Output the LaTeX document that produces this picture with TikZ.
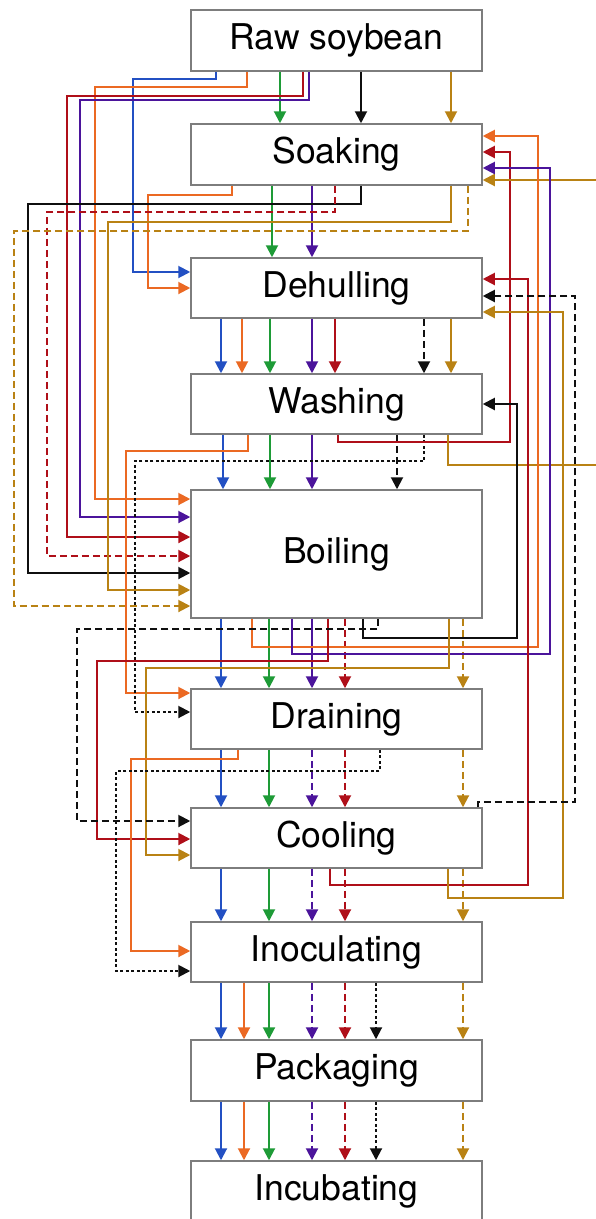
\documentclass[tikz,border=0pt]{standalone}
\usepackage{fontspec}
\setmainfont{TeX Gyre Heros}
\usetikzlibrary{arrows.meta}
\definecolor{cb}{RGB}{35,80,195}
\definecolor{co}{RGB}{235,105,35}
\definecolor{cg}{RGB}{30,155,55}
\definecolor{cp}{RGB}{75,20,155}
\definecolor{cr}{RGB}{175,15,25}
\definecolor{cy}{RGB}{185,130,20}
\definecolor{ck}{RGB}{15,15,15}
\definecolor{boxgray}{RGB}{125,125,125}
\begin{document}
\begin{tikzpicture}[x=1pt,y=-1pt,
  box/.style={draw=boxgray, line width=1.5pt, fill=white, minimum width=291pt, inner sep=0pt, font=\fontsize{35.5}{40}\selectfont},
  fl/.style={line width=2pt, -{Triangle[width=12pt,length=12pt]}},
  dsh/.style={dash pattern=on 7pt off 4pt},
  dtt/.style={dash pattern=on 3pt off 2.5pt},
  B/.style={fl,draw=cb},
  O/.style={fl,draw=co},
  G/.style={fl,draw=cg},
  P/.style={fl,draw=cp},
  R/.style={fl,draw=cr},
  Y/.style={fl,draw=cy},
  K/.style={fl,draw=ck}]
\clip (0,0) rectangle (596,1219);
\fill[white] (0,0) rectangle (596,1219);
% boxes
\node[box, minimum height=61pt] (raw)   at (336.5,40.5)  {Raw soybean};
\node[box, minimum height=61pt] (soak)  at (336.5,154.5) {Soaking};
\node[box, minimum height=60pt] (dehull) at (336.5,288)  {Dehulling};
\node[box, minimum height=60pt] (wash)  at (336.5,404)   {Washing};
\node[box, minimum height=128pt] (boil) at (336.5,554)   {Boiling};
\node[box, minimum height=60pt] (drain) at (336.5,719)   {Draining};
\node[box, minimum height=60pt] (cool)  at (336.5,838)   {Cooling};
\node[box, minimum height=60pt] (inoc)  at (336.5,952)   {Inoculating};
\node[box, minimum height=61pt] (pack)  at (336.5,1070.5) {Packaging};
\node[box, minimum height=60pt] (incub) at (336.5,1191)  {Incubating};

% Raw soybean -> Soaking
\draw[G] (raw.south -| 280,0) -- (soak.north -| 280,0);
\draw[K] (raw.south -| 361,0) -- (soak.north -| 361,0);
\draw[Y] (raw.south -| 451,0) -- (soak.north -| 451,0);
% Raw soybean -> Dehulling / Boiling
\draw[B] (raw.south -| 216,0) |- (133,79) |- (dehull.west |- 0,272);
\draw[O] (raw.south -| 247,0) |- (95,87) |- (boil.west |- 0,499);
\draw[R] (raw.south -| 303,0) |- (67,96) |- (boil.west |- 0,537);
\draw[P] (raw.south -| 309,0) |- (80,100) |- (boil.west |- 0,517);

% Soaking -> Dehulling
\draw[G] (soak.south -| 272,0) -- (dehull.north -| 272,0);
\draw[P] (soak.south -| 312,0) -- (dehull.north -| 312,0);
\draw[O] (soak.south -| 232,0) |- (148,195) |- (dehull.west |- 0,288);
% Soaking -> Boiling
\draw[K] (soak.south -| 361,0) |- (28,204) |- (boil.west |- 0,573);
\draw[R,dsh] (soak.south -| 335,0) |- (47,212) |- (boil.west |- 0,556);
\draw[Y] (soak.south -| 451,0) |- (108,222) |- (boil.west |- 0,590);
\draw[Y,dsh] (soak.south -| 468,0) |- (14,231) |- (boil.west |- 0,606);

% Dehulling -> Washing
\draw[B] (dehull.south -| 221,0) -- (wash.north -| 221,0);
\draw[O] (dehull.south -| 242,0) -- (wash.north -| 242,0);
\draw[G] (dehull.south -| 270,0) -- (wash.north -| 270,0);
\draw[P] (dehull.south -| 312,0) -- (wash.north -| 312,0);
\draw[R] (dehull.south -| 335,0) -- (wash.north -| 335,0);
\draw[K,dsh] (dehull.south -| 424,0) -- (wash.north -| 424,0);
\draw[Y] (dehull.south -| 451,0) -- (wash.north -| 451,0);

% Washing -> Boiling
\draw[B] (wash.south -| 223,0) -- (boil.north -| 223,0);
\draw[G] (wash.south -| 270,0) -- (boil.north -| 270,0);
\draw[P] (wash.south -| 312,0) -- (boil.north -| 312,0);
\draw[K,dsh] (wash.south -| 397,0) -- (boil.north -| 397,0);
% Washing -> Draining
\draw[O] (wash.south -| 248,0) |- (126,451) |- (drain.west |- 0,693);
\draw[K,dtt] (wash.south -| 424,0) |- (135,461) |- (drain.west |- 0,712);
% Washing -> Soaking
\draw[R] (wash.south -| 338,0) |- (510,442) |- (soak.east |- 0,152);
\draw[Y] (wash.south -| 448,0) |- (630,465) |- (soak.east |- 0,180);

% Boiling -> Draining
\draw[B] (boil.south -| 221,0) -- (drain.north -| 221,0);
\draw[G] (boil.south -| 269,0) -- (drain.north -| 269,0);
\draw[P] (boil.south -| 312,0) -- (drain.north -| 312,0);
\draw[R,dsh] (boil.south -| 345,0) -- (drain.north -| 345,0);
\draw[Y,dsh] (boil.south -| 463,0) -- (drain.north -| 463,0);
% Boiling -> Soaking / Washing
\draw[O] (boil.south -| 252,0) |- (538,647) |- (soak.east |- 0,136);
\draw[P] (boil.south -| 292,0) |- (550,654) |- (soak.east |- 0,168);
\draw[K] (boil.south -| 363,0) |- (517,638) |- (wash.east |- 0,404);
% Boiling -> Cooling
\draw[R] (boil.south -| 328,0) |- (97,661) |- (cool.west |- 0,839);
\draw[Y] (boil.south -| 449,0) |- (146,668) |- (cool.west |- 0,855);
\draw[K,dsh] (boil.south -| 378,0) |- (77,629) |- (cool.west |- 0,821);

% Draining -> Cooling
\draw[B] (drain.south -| 221,0) -- (cool.north -| 221,0);
\draw[G] (drain.south -| 269,0) -- (cool.north -| 269,0);
\draw[P,dsh] (drain.south -| 312,0) -- (cool.north -| 312,0);
\draw[R,dsh] (drain.south -| 345,0) -- (cool.north -| 345,0);
\draw[Y,dsh] (drain.south -| 463,0) -- (cool.north -| 463,0);
% Draining -> Inoculating
\draw[O] (drain.south -| 238,0) |- (131,759) |- (inoc.west |- 0,951);
\draw[K,dtt] (drain.south -| 380,0) |- (116,771) |- (inoc.west |- 0,971);

% Cooling -> Inoculating
\draw[B] (cool.south -| 221,0) -- (inoc.north -| 221,0);
\draw[G] (cool.south -| 269,0) -- (inoc.north -| 269,0);
\draw[P,dsh] (cool.south -| 312,0) -- (inoc.north -| 312,0);
\draw[R,dsh] (cool.south -| 345,0) -- (inoc.north -| 345,0);
\draw[Y,dsh] (cool.south -| 463,0) -- (inoc.north -| 463,0);
% Cooling -> Dehulling
\draw[R] (cool.south -| 330,0) |- (528,885) |- (dehull.east |- 0,279);
\draw[Y] (cool.south -| 448,0) |- (563,898) |- (dehull.east |- 0,312);
\draw[K,dsh] (cool.north -| 478,0) |- (575,802) |- (dehull.east |- 0,296);

% Inoculating -> Packaging
\draw[B] (inoc.south -| 221,0) -- (pack.north -| 221,0);
\draw[O] (inoc.south -| 244,0) -- (pack.north -| 244,0);
\draw[G] (inoc.south -| 269,0) -- (pack.north -| 269,0);
\draw[P,dsh] (inoc.south -| 312,0) -- (pack.north -| 312,0);
\draw[R,dsh] (inoc.south -| 345,0) -- (pack.north -| 345,0);
\draw[K,dtt] (inoc.south -| 376,0) -- (pack.north -| 376,0);
\draw[Y,dsh] (inoc.south -| 463,0) -- (pack.north -| 463,0);

% Packaging -> Incubating
\draw[B] (pack.south -| 221,0) -- (incub.north -| 221,0);
\draw[O] (pack.south -| 244,0) -- (incub.north -| 244,0);
\draw[G] (pack.south -| 269,0) -- (incub.north -| 269,0);
\draw[P,dsh] (pack.south -| 312,0) -- (incub.north -| 312,0);
\draw[R,dsh] (pack.south -| 345,0) -- (incub.north -| 345,0);
\draw[K,dtt] (pack.south -| 376,0) -- (incub.north -| 376,0);
\draw[Y,dsh] (pack.south -| 463,0) -- (incub.north -| 463,0);
\end{tikzpicture}
\end{document}
